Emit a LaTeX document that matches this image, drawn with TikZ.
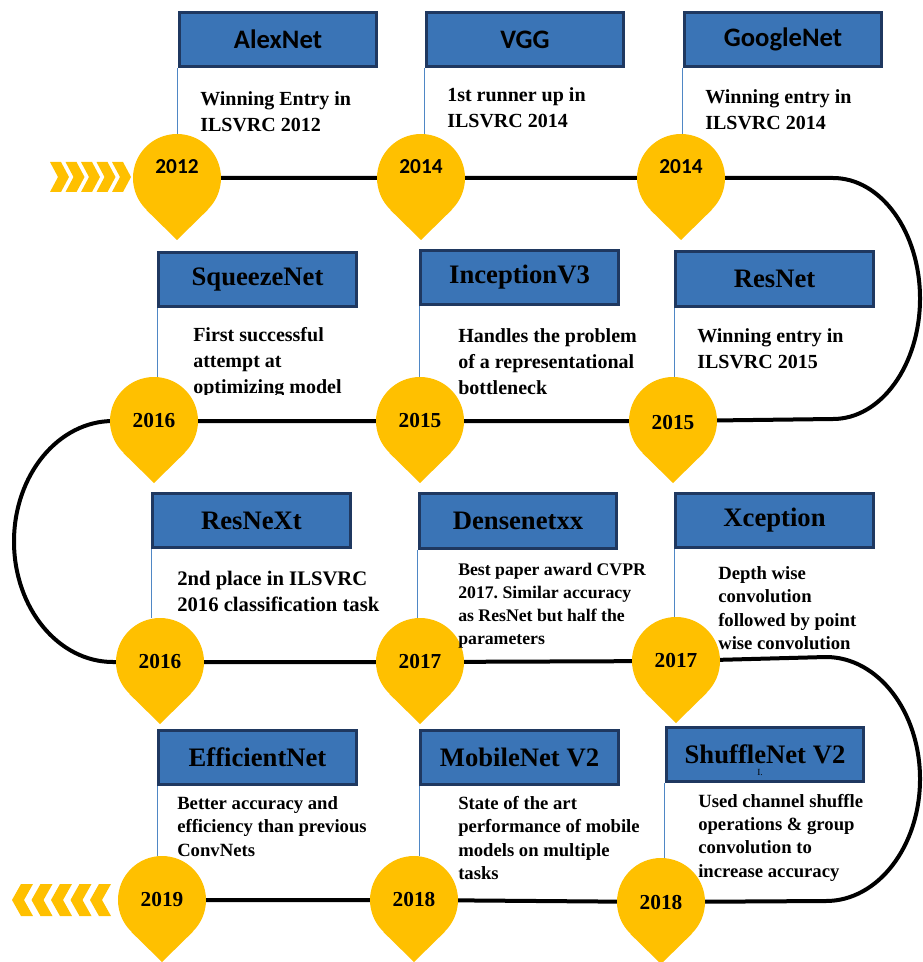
\documentclass[tikz,border=0pt]{standalone}
\usepackage{fontspec}
\setmainfont{Liberation Serif}
\newfontfamily\carlito{Carlito}
\usetikzlibrary{backgrounds}
\definecolor{pinc}{RGB}{255,192,0}
\definecolor{boxfill}{RGB}{58,116,182}
\definecolor{boxline}{RGB}{31,56,96}
\definecolor{stemc}{RGB}{79,135,197}
\frenchspacing
\newcommand\pintip[1]{\fill[pinc] (#1.-45.2) -- ([yshift=-46.5pt]#1.center) -- (#1.-134.8) -- cycle;}
\tikzset{
  titlebox/.style={draw=boxline, line width=2.4pt, fill=boxfill, minimum width=148pt, minimum height=41pt, inner sep=0pt, font=\bfseries\fontsize{20}{22}\selectfont},
  titleboxA/.style={titlebox, font=\carlito\bfseries\fontsize{20}{22}\selectfont},
  pincirc/.style={circle, fill=pinc, minimum size=66pt, inner sep=0pt},
  yearA/.style={inner sep=0pt, font=\carlito\bfseries\fontsize{16}{18}\selectfont},
  yearB/.style={inner sep=0pt, font=\bfseries\fontsize{16}{18}\selectfont},
  tl/.style={line width=3pt, black},
  stem/.style={line width=1pt, stemc},
  desc/.style={anchor=west, align=left, inner sep=0pt, font=\bfseries\fontsize{15}{19.5}\selectfont},
  descs/.style={anchor=west, align=left, inner sep=0pt, font=\bfseries\fontsize{14}{17.5}\selectfont},
  chev/.style={fill=pinc},
}
\begin{document}
\begin{tikzpicture}[x=0.75pt,y=-0.75pt]
\useasboundingbox (0,0) rectangle (922,962);

% chevrons
\foreach \i in {0,...,4} {
  \fill[chev] ({50+15.5*\i},162) -- ++(11,0) -- ++(8,15) -- ++(-8,15) -- ++(-11,0) -- ++(8,-15) -- cycle;
}
\foreach \i in {0,...,4} {
  \fill[chev] ({12+19.5*\i},900) -- ++(9,-16) -- ++(12,0) -- ++(-9,16) -- ++(9,16) -- ++(-12,0) -- cycle;
}

% pins
\node[pincirc] (p1) at (177,178) {};
\node[pincirc] (p2) at (421,178) {};
\node[pincirc] (p3) at (681,178) {};
\node[pincirc] (p4) at (673,421) {};
\node[pincirc] (p5) at (420,421) {};
\node[pincirc] (p6) at (154,421) {};
\node[pincirc] (p7) at (160,662) {};
\node[pincirc] (p8) at (420,662) {};
\node[pincirc] (p9) at (676,661) {};
\node[pincirc] (p10) at (661,902) {};
\node[pincirc] (p11) at (414,900) {};
\node[pincirc] (p12) at (162,900) {};
\foreach \p in {p1,p2,p3,p4,p5,p6,p7,p8,p9,p10,p11,p12} {\pintip{\p}}

% years
\node[yearA] (y1) at (177,167) {2012};
\node[yearA] (y2) at (421,167) {2014};
\node[yearA] (y3) at (681,167) {2014};
\node[yearB] (y4) at (673,423) {2015};
\node[yearB] (y5) at (420,421) {2015};
\node[yearB] (y6) at (154,421) {2016};
\node[yearB] (y7) at (160,662) {2016};
\node[yearB] (y8) at (420,662) {2017};
\node[yearB] (y9) at (676,661) {2017};
\node[yearB] (y10) at (661,902) {2018};
\node[yearB] (y11) at (414,899) {2018};
\node[yearB] (y12) at (162,899) {2019};

% title boxes
\node[titleboxA] (b1) at (278,39.5) {AlexNet};
\node[titleboxA] (b2) at (525,39.5) {VGG};
\node[titleboxA] (b3) at (783,39.5) {GoogleNet};
\node[titlebox] (b4) at (774.5,279) {ResNet};
\node[titlebox] (b5) at (519.5,277.5) {InceptionV3};
\node[titlebox] (b6) at (257.5,279.5) {SqueezeNet};
\node[titlebox] (b7) at (251.5,520.5) {ResNeXt};
\node[titlebox] (b8) at (518,521) {Densenetxx};
\node[titlebox] (b9) at (774.5,520.5) {Xception};
\node[titlebox] (b10) at (765,754.5) {ShuffleNet V2};
\node[titlebox] (b11) at (519.5,757.5) {MobileNet V2};
\node[titlebox] (b12) at (257.5,757.5) {EfficientNet};
\node[inner sep=0pt, font=\fontsize{7}{8}\selectfont] (mk) at (760,773) {I.};

% descriptions
\node[desc] (d1) at (200,112) {Winning Entry in\\ILSVRC 2012};
\node[desc] (d2) at (447,108) {1st runner up in\\ILSVRC 2014};
\node[desc] (d3) at (705,110) {Winning entry in\\ILSVRC 2014};
\begin{scope}
  \clip (185,300) rectangle (670,394);
  \node[desc] (d6) at (193,363) {First successful\\attempt at\\optimizing model};
  \node[desc] (d5) at (458,362) {Handles the problem\\of a representational\\bottleneck};
\end{scope}
\node[desc] (d4) at (697,349) {Winning entry in\\ILSVRC 2015};
\node[desc, font=\bfseries\fontsize{15.5}{19.5}\selectfont] (d7) at (177,591) {2nd place in ILSVRC\\2016 classification task};
\node[descs, font=\bfseries\fontsize{13.3}{17.3}\selectfont] (d8) at (458,605.5) {Best paper award CVPR\\2017. Similar accuracy\\as ResNet but half the\\parameters};
\node[descs] (d9) at (718,608) {Depth wise\\convolution\\followed by point\\wise convolution};
\node[descs] (d12) at (177,826.5) {Better accuracy and\\efficiency than previous\\ConvNets};
\node[descs] (d11) at (458,838) {State of the art\\performance of mobile\\models on multiple\\tasks};
\node[descs] (d10) at (698,837.5) {Used channel shuffle\\operations \& group\\convolution to\\increase accuracy};

\begin{scope}[on background layer]
  \fill[white] (0,0) rectangle (922,962);
  \coordinate (k1) at (833,178);
  \coordinate (k2) at (113,421);
  \coordinate (k3) at (826,657);
  \draw[tl] (p1.center) -- (p2.center) -- (p3.center) -- (k1)
     arc[start angle=-90, end angle=90, x radius=87, y radius=120.5]
     -- (p4.center) -- (p5.center) -- (p6.center) -- (k2)
     arc[start angle=-90, end angle=-270, x radius=99, y radius=120.5]
     -- (p7.center) -- (p8.center) -- (p9.center) -- (k3)
     arc[start angle=-90, end angle=90, x radius=94, y radius=122]
     -- (p10.center) -- (p11.center) -- (p12.center);
  \foreach \b/\p in {b1/p1,b2/p2,b3/p3,b4/p4,b5/p5,b6/p6,b7/p7,b8/p8,b9/p9,b10/p10,b11/p11,b12/p12}
    {\draw[stem] (\b.south west) -- (\b.south west |- \p.north);}
\end{scope}
\end{tikzpicture}
\end{document}
